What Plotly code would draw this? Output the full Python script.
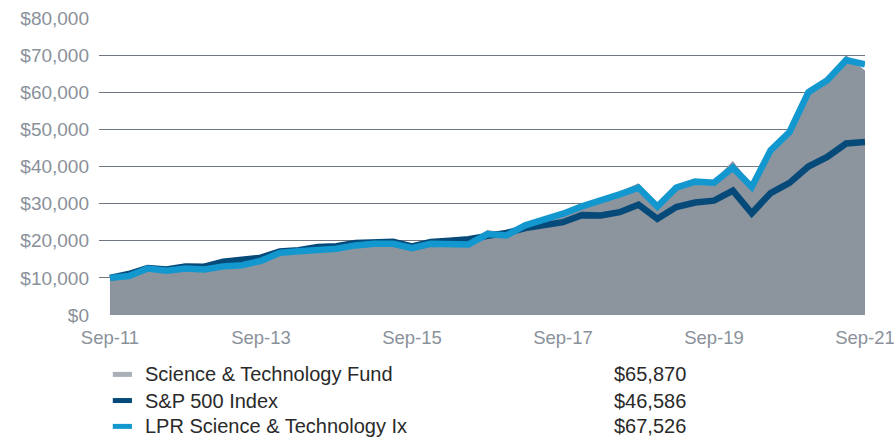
import plotly.graph_objects as go

quarters = [
    "Sep-11", "Dec-11", "Mar-12", "Jun-12", "Sep-12", "Dec-12", "Mar-13", "Jun-13",
    "Sep-13", "Dec-13", "Mar-14", "Jun-14", "Sep-14", "Dec-14", "Mar-15", "Jun-15",
    "Sep-15", "Dec-15", "Mar-16", "Jun-16", "Sep-16", "Dec-16", "Mar-17", "Jun-17",
    "Sep-17", "Dec-17", "Mar-18", "Jun-18", "Sep-18", "Dec-18", "Mar-19", "Jun-19",
    "Sep-19", "Dec-19", "Mar-20", "Jun-20", "Sep-20", "Dec-20", "Mar-21", "Jun-21",
    "Sep-21",
]

fund = [
    10000, 10400, 12300, 11700, 12300, 12100, 12900, 13200,
    14400, 16500, 17000, 17400, 17700, 18600, 19100, 19200,
    17800, 19100, 18900, 19800, 22900, 22000, 24600, 26000,
    27800, 29900, 31300, 33200, 35500, 29500, 35000, 36400,
    36200, 41500, 35000, 44800, 49800, 61000, 64000, 70000,
    65870,
]

sp500 = [
    10000, 11050, 12650, 12250, 13050, 13000, 14350, 14700,
    15450, 17100, 17450, 18300, 18500, 19400, 19650, 19700,
    18500, 19700, 20000, 20400, 21300, 22100, 23400, 24000,
    25000, 26900, 26800, 27700, 29700, 25900, 29100, 30300,
    30800, 33500, 27400, 32850, 35600, 40000, 42600, 46200,
    46586,
]

lpr = [
    10000, 10500, 12500, 11900, 12500, 12250, 13100, 13400,
    14600, 16750, 17200, 17600, 17850, 18750, 19200, 19200,
    18000, 19200, 18950, 19000, 21800, 21450, 24140, 25490,
    27290, 29260, 30700, 32500, 34300, 29200, 34300, 35920,
    35650, 39700, 34500, 44360, 49300, 60000, 63240, 68640,
    67526,
]

series_names = ["Science & Technology Fund", "S&P 500 Index", "LPR Science & Technology Ix"]
x_tick_labels = ["Sep-11", "Sep-13", "Sep-15", "Sep-17", "Sep-19", "Sep-21"]
y_tick_values = [0, 10000, 20000, 30000, 40000, 50000, 60000, 70000, 80000]

AREA = "#8c949e"
DARK = "#064a7a"
LIGHT = "#1298cf"
FUND_LEG = "#a9b0b8"
TICK_COLOR = "#8a919a"
GRID = "#6f7781"
FONT = "Liberation Sans, Arial, Helvetica, sans-serif"

fig = go.Figure()
fig.add_trace(go.Scatter(
    x=quarters, y=fund, name=series_names[0], mode="lines",
    line=dict(width=0, color=AREA), fill="tozeroy", fillcolor=AREA,
    showlegend=False,
))
fig.add_trace(go.Scatter(
    x=quarters, y=sp500, name=series_names[1], mode="lines",
    line=dict(width=6.5, color=DARK), showlegend=False,
))
fig.add_trace(go.Scatter(
    x=quarters, y=lpr, name=series_names[2], mode="lines",
    line=dict(width=6.5, color=LIGHT), showlegend=False,
))

# custom legend
row_y = [-0.200, -0.288, -0.375]
leg_colors = [FUND_LEG, DARK, LIGHT]
finals = [fund[-1], sp500[-1], lpr[-1]]
for name, col, yy, val in zip(series_names, leg_colors, row_y, finals):
    fig.add_shape(type="line", xref="paper", yref="paper",
                  x0=0.018, x1=0.043, y0=yy, y1=yy,
                  line=dict(color=col, width=5))
    fig.add_annotation(xref="paper", yref="paper", x=0.0574, y=yy,
                       text=name, showarrow=False, xanchor="left", yanchor="middle",
                       font=dict(family=FONT, size=20, color="#2a2a2a"))
    fig.add_annotation(xref="paper", yref="paper", x=0.769, y=yy,
                       text="${:,.0f}".format(val), showarrow=False,
                       xanchor="right", yanchor="middle",
                       font=dict(family=FONT, size=20, color="#2a2a2a"))

fig.update_layout(
    width=894, height=437,
    margin=dict(l=99, r=29, t=18, b=122, autoexpand=False),
    paper_bgcolor="white", plot_bgcolor="white",
    font=dict(family=FONT, size=19, color=TICK_COLOR),
    showlegend=False,
)
fig.update_xaxes(
    type="category", range=[-0.58, 40],
    tickvals=x_tick_labels, ticktext=x_tick_labels,
    showgrid=False, zeroline=False, showline=False,
    ticks="", ticklabelstandoff=9, automargin=False,
    tickfont=dict(family=FONT, size=18.5, color=TICK_COLOR),
)
fig.update_yaxes(
    range=[0, 80000], tickvals=y_tick_values, tickformat="$,.0f",
    showgrid=True, gridcolor=GRID, gridwidth=1.2,
    zeroline=False, showline=False, ticks="", ticklabelstandoff=9,
    automargin=False,
    tickfont=dict(family=FONT, size=19, color=TICK_COLOR),
)

fig.write_html(
    "out.html",
    config={"displayModeBar": False},
    post_script="document.body.style.margin='0px';document.body.style.overflow='hidden';",
)
